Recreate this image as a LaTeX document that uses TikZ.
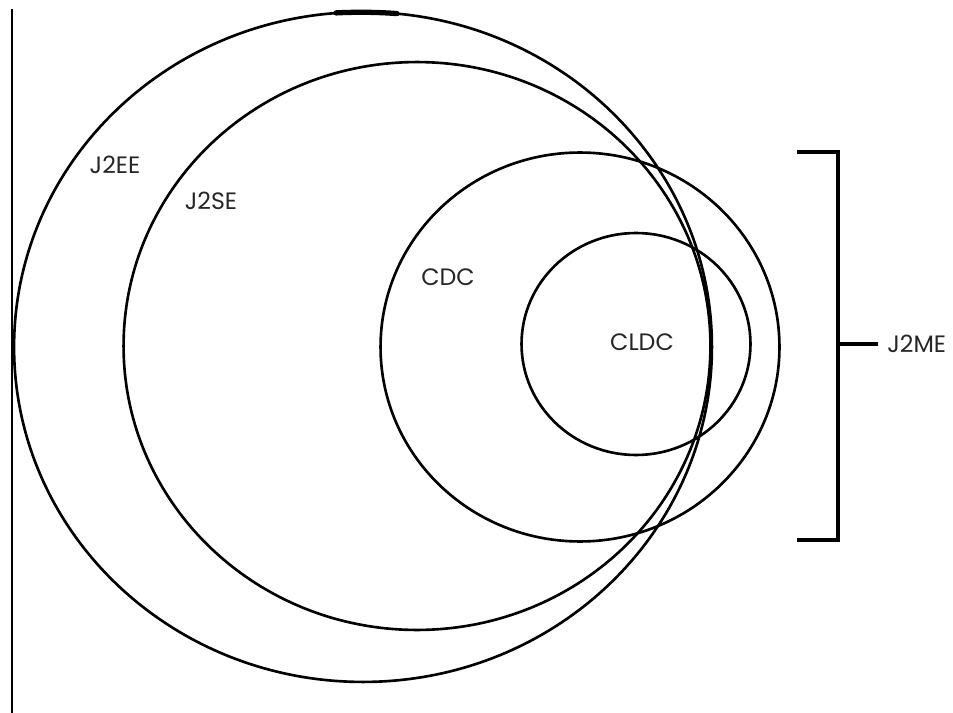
\documentclass[tikz,border=0pt]{standalone}
\usepackage{fontspec}
\setmainfont{Poppins}
\usepackage{tikz}
\usetikzlibrary{shapes.geometric,positioning}
\tikzset{
  setring/.style={ellipse,draw=black,line width=1.5pt,inner sep=0pt},
  setlabel/.style={font=\fontsize{13.5}{15}\selectfont,inner sep=1pt,text=black!85},
  bracketline/.style={draw=black,line width=2.8pt,line join=miter,line cap=butt},
  edgeline/.style={draw=black,line width=1.2pt}
}

\begin{document}
\begin{tikzpicture}[x=0.02cm,y=-0.02cm]
  \useasboundingbox (0,0) rectangle (953,713);
  \coordinate (edgetop) at (12,9);
  \coordinate (edgebot) at (12,713);
  \draw[edgeline] (edgetop) -- (edgebot);
  \node[setring,minimum width=13.96cm,minimum height=13.40cm] (j2ee) at (363,347) {};
  \node[setring,minimum width=11.74cm,minimum height=11.36cm] (j2se) at (417,346) {};
  \node[setring,minimum width=7.98cm,minimum height=7.78cm] (cdc) at (580,347) {};
  \node[setring,minimum width=4.58cm,minimum height=4.44cm] (cldc) at (636,344) {};
  \draw[line width=3pt,line cap=round] (336,12.9) .. controls (356,11.9) and (378,12.1) .. (397,13.6);
  \node[setlabel] (j2eetxt) at (115,165) {J2EE};
  \node[setlabel] (j2setxt) at (211,201) {J2SE};
  \node[setlabel] (cdctxt) at (448,277) {CDC};
  \node[setlabel] (cldctxt) at (642,342) {CLDC};
  \coordinate (btop) at (797,152);
  \coordinate (bbot) at (797,540);
  \coordinate (bmid) at (838,344);
  \coordinate (bend) at (878,344);
  \draw[bracketline] (btop) -- (838,152) -- (838,540) -- (bbot);
  \draw[bracketline] (bmid) -- (bend);
  \node[setlabel,anchor=west,right=9 of bend,inner sep=0pt] (j2me) {J2ME};
\end{tikzpicture}
\end{document}
